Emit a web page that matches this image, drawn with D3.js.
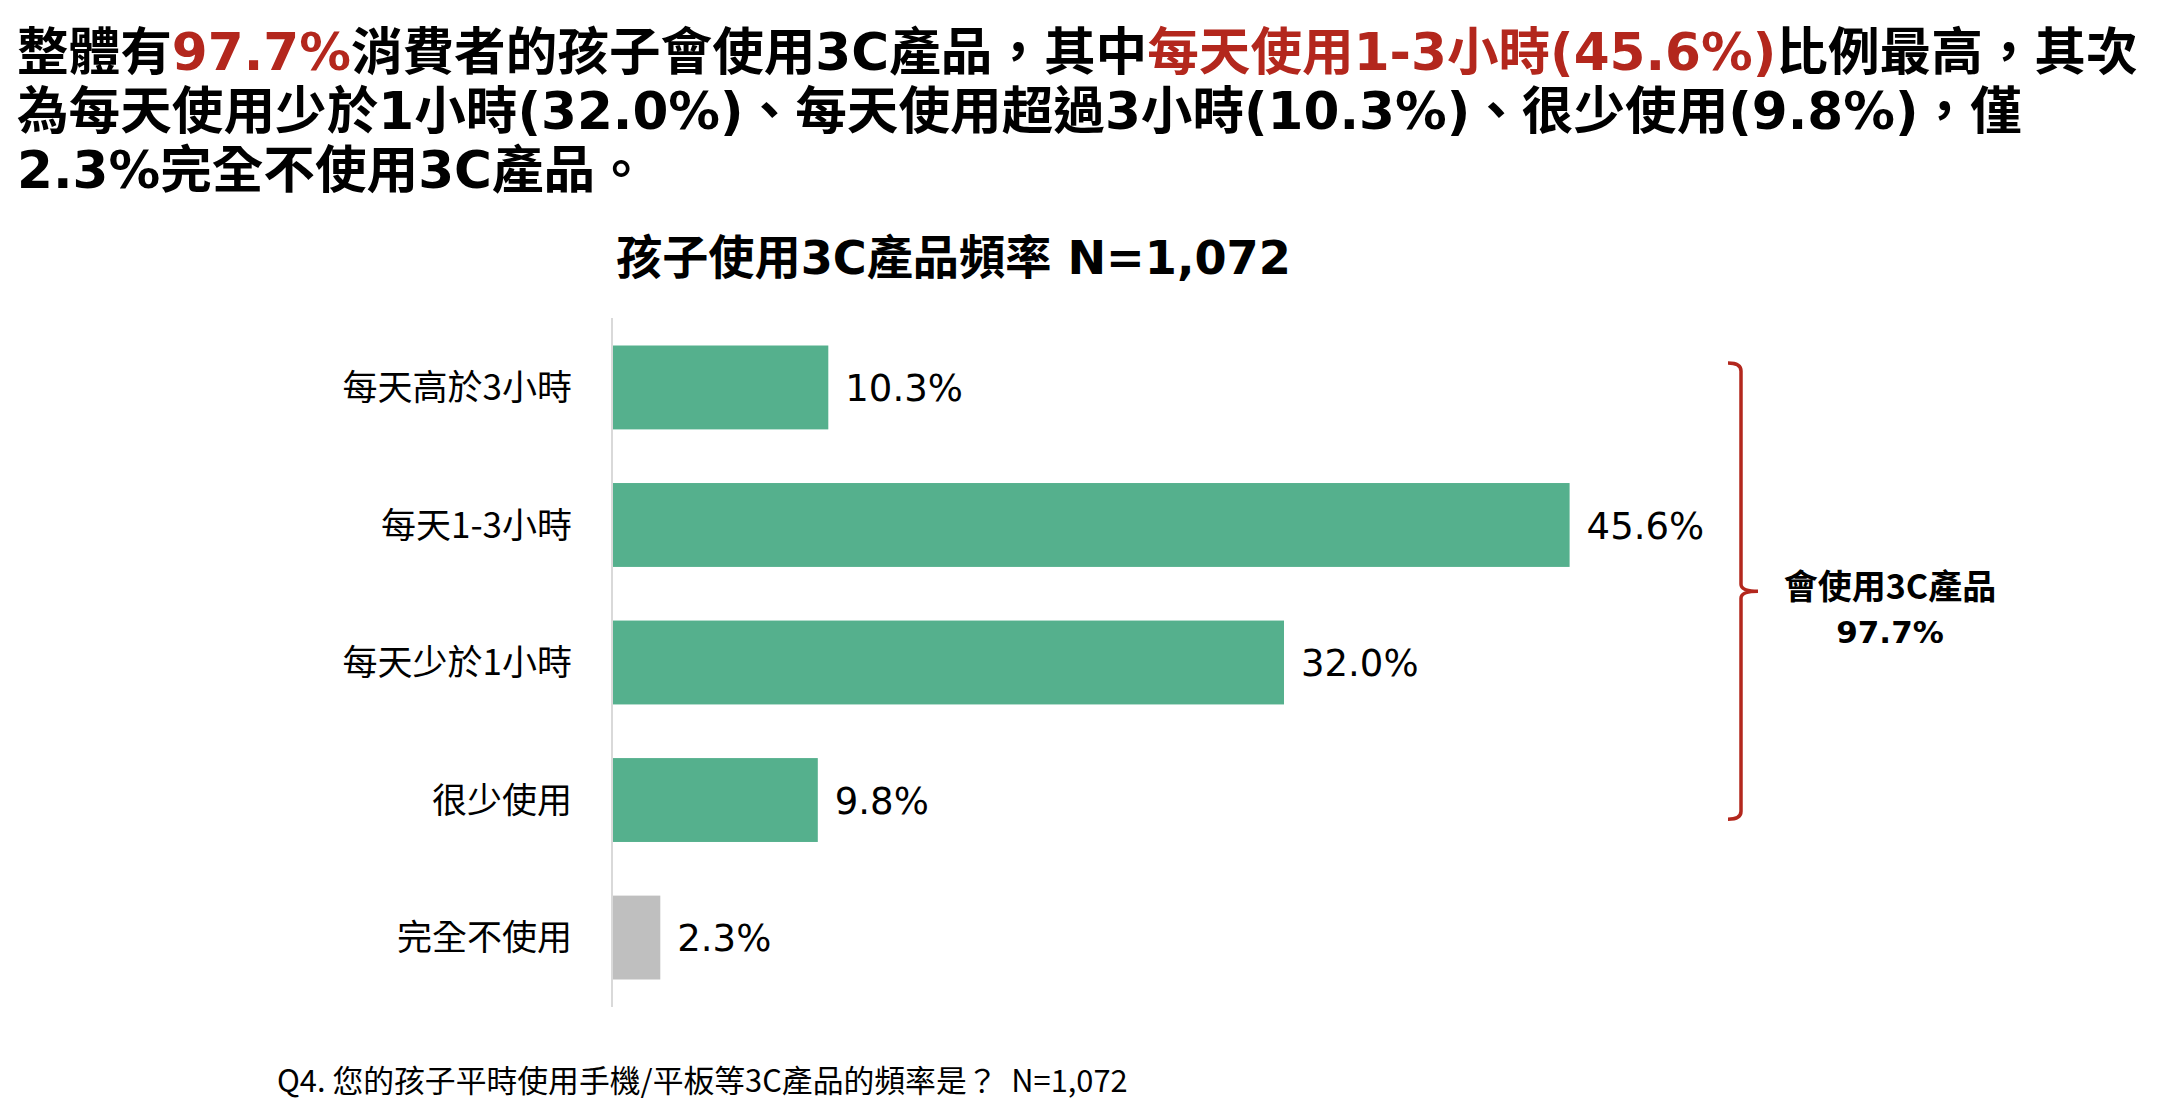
<!DOCTYPE html>
<html><head><meta charset="utf-8">
<script src="https://cdn.jsdelivr.net/npm/d3@7"></script>
<style>body{margin:0;background:#fff;overflow:hidden} svg{display:block}</style>
</head><body>
<script>
// ---- data ----
const categories = ["每天高於3小時", "每天1-3小時", "每天少於1小時", "很少使用", "完全不使用"];
const values = [10.3, 45.6, 32.0, 9.8, 2.3];
const userCategories = ["每天高於3小時", "每天1-3小時", "每天少於1小時", "很少使用"];
const userLabel = "會使用3C產品";
const userTotal = 97.7;
const chartTitle = "孩子使用3C產品頻率 N=1,072";
const footnote = "Q4. 您的孩子平時使用手機/平板等3C產品的頻率是？  N=1,072";
// headline segments: [text, highlighted?]
const headline1 = [["整體有", false], ["97.7%", true], ["消費者的孩子會使用3C產品，其中", false], ["每天使用1-3小時(45.6%)", true], ["比例最高，其次", false]];
const headline2 = [["為每天使用少於1小時(32.0%)、每天使用超過3小時(10.3%)、很少使用(9.8%)，僅", false]];
const headline3 = [["2.3%完全不使用3C產品。", false]];
const headlines = [headline1, headline2, headline3];

// ---- styles ----
const W = 2170, H = 1111;
const GREEN = "#55b08d", GREY = "#bfbfbf", RED = "#b3271d";
const CJK = "'Noto Sans CJK TC', 'Noto Sans CJK SC', sans-serif";
const LAT = "'DejaVu Sans', 'Noto Sans CJK TC', sans-serif";

const svg = d3.select("body").append("svg").attr("width", W).attr("height", H);

// ---- headline ----
const hl = svg.append("g");
const baseY = [70, 129, 188];
const hTexts = headlines.map((segs, i) => {
  const t = hl.append("text").attr("x", 17).attr("y", baseY[i])
    .style("font-family", LAT).style("font-weight", "bold").style("font-size", "48px");
  segs.forEach(([s, hi]) => t.append("tspan").text(s).attr("fill", hi ? RED : "#000"));
  return t;
});
const w1 = hTexts[0].node().getComputedTextLength();
const hfs = 48 * 2121 / w1;
hTexts.forEach(t => t.style("font-size", hfs + "px"));

// ---- chart title ----
const ct = svg.append("text").attr("x", 616).attr("y", 274)
  .style("font-family", LAT).style("font-weight", "bold").style("font-size", "43px")
  .attr("fill", "#000").text(chartTitle);
const cw = ct.node().getComputedTextLength();
ct.style("font-size", (43 * 675 / cw) + "px");

// ---- scales ----
const y = d3.scaleBand().domain(categories).range([318, 1007]).paddingInner(0.39).paddingOuter(0.2);
const x = d3.scaleLinear().domain([0, 50]).range([612, 612 + 50 * 21.0]);

// bars
svg.append("g").selectAll("rect").data(categories).join("rect")
  .attr("x", x(0)).attr("y", d => y(d))
  .attr("width", (d, i) => x(values[i]) - x(0))
  .attr("height", y.bandwidth())
  .attr("fill", d => userCategories.includes(d) ? GREEN : GREY);

// axis line (category axis)
const yAxis = svg.append("g").attr("transform", `translate(${x(0)},0)`)
  .call(d3.axisLeft(y).tickSize(0).tickPadding(40));
yAxis.select(".domain").attr("stroke", "#d9d9d9").attr("stroke-width", 2)
  .attr("d", `M0,318V1007`);
yAxis.selectAll(".tick text")
  .style("font-family", CJK).style("font-size", "35px").attr("fill", "#000")
  .attr("dy", "0.36em");

// value labels
svg.append("g").selectAll("text").data(categories).join("text")
  .attr("x", (d, i) => x(values[i]) + 17)
  .attr("y", d => y(d) + y.bandwidth() / 2)
  .attr("dy", "0.37em")
  .style("font-family", "'DejaVu Sans', sans-serif").style("font-size", "37px")
  .attr("fill", "#000")
  .text((d, i) => values[i].toFixed(1) + "%");

// bracket
const bTop = y(userCategories[0]) + y.bandwidth() * 0.21;
const bBot = y(userCategories[userCategories.length - 1]) + y.bandwidth() * 0.73;
const bMid = (bTop + bBot) / 2;
const bx = 1741;
svg.append("path")
  .attr("d", `M${bx - 13},${bTop} Q${bx},${bTop} ${bx},${bTop + 8} L${bx},${bMid - 7} Q${bx},${bMid} ${bx + 17},${bMid} Q${bx},${bMid} ${bx},${bMid + 7} L${bx},${bBot - 8} Q${bx},${bBot} ${bx - 13},${bBot}`)
  .attr("fill", "none").attr("stroke", RED).attr("stroke-width", 3.5);

svg.append("text").attr("text-anchor", "middle")
  .style("font-family", CJK).style("font-weight", "bold").style("font-size", "34px").attr("fill", "#000")
  .attr("x", 1890).attr("y", bMid + 8).text(userLabel);
svg.append("text").attr("text-anchor", "middle")
  .style("font-family", "'DejaVu Sans', sans-serif").style("font-weight", "bold").style("font-size", "31px").attr("fill", "#000")
  .attr("x", 1890).attr("y", bMid + 52).text(userTotal.toFixed(1) + "%");

// footnote
const fn = svg.append("text").attr("x", 277).attr("y", 1092)
  .style("white-space", "pre")
  .style("font-family", CJK).style("font-size", "29px").attr("fill", "#000").text(footnote);
const fw = fn.node().getComputedTextLength();
fn.style("font-size", (29 * 851 / fw) + "px");
</script>
</body></html>
